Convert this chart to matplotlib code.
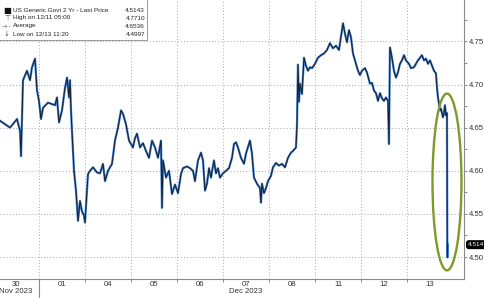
'''
    US 2Y yield intraday chart (Bloomberg style), Nov 30 - Dec 13 2023.
'''
import matplotlib
matplotlib.use('Agg')
import matplotlib.pyplot as plt
from matplotlib.patches import Ellipse, Rectangle
from matplotlib.transforms import blended_transform_factory

# trading-day position (0 = Nov 30, 1 = Dec 01, 2 = Dec 04 ...) and yield
t_days = [
    0.152, 0.370, 0.522, 0.587, 0.609, 0.652, 0.739, 0.804, 0.848, 0.913,
    0.957, 1.000, 1.043, 1.087, 1.196, 1.348, 1.391, 1.435, 1.500, 1.565,
    1.609, 1.652, 1.674, 1.696, 1.717, 1.761, 1.804, 1.848, 1.891, 1.935,
    1.978, 2.000, 2.043, 2.065, 2.109, 2.174, 2.261, 2.326, 2.391, 2.435,
    2.500, 2.587, 2.652, 2.717, 2.783, 2.826, 2.891, 2.957, 3.043, 3.087,
    3.130, 3.196, 3.261, 3.326, 3.391, 3.457, 3.522, 3.587, 3.652, 3.674,
    3.696, 3.761, 3.826, 3.891, 3.957, 4.022, 4.087, 4.130, 4.217, 4.283,
    4.348, 4.391, 4.457, 4.522, 4.565, 4.609, 4.652, 4.696, 4.739, 4.804,
    4.848, 4.891, 4.935, 5.000, 5.065, 5.130, 5.196, 5.239, 5.283, 5.326,
    5.391, 5.457, 5.500, 5.565, 5.587, 5.630, 5.674, 5.739, 5.804, 5.826,
    5.848, 5.891, 5.935, 5.978, 6.043, 6.087, 6.152, 6.217, 6.283, 6.348,
    6.413, 6.478, 6.522, 6.587, 6.609, 6.630, 6.652, 6.674, 6.717, 6.761,
    6.804, 6.848, 6.891, 6.935, 7.000, 7.065, 7.130, 7.196, 7.261, 7.326,
    7.391, 7.457, 7.522, 7.565, 7.609, 7.652, 7.696, 7.739, 7.783, 7.826,
    7.870, 7.935, 7.978, 8.022, 8.087, 8.130, 8.196, 8.239, 8.283, 8.326,
    8.370, 8.413, 8.457, 8.500, 8.543, 8.587, 8.609, 8.630, 8.674, 8.717,
    8.761, 8.804, 8.848, 8.891, 8.935, 8.978, 9.043, 9.087, 9.152, 9.196,
    9.239, 9.283, 9.326, 9.370, 9.413, 9.457, 9.500, 9.543, 9.587, 9.630,
    9.652, 9.674, 9.696, 9.717, 9.739, 9.783, 9.804, 9.826, 9.848, 9.870,
    9.876, 9.880, 9.885,
]
yield_2y = [
    4.658, 4.650, 4.660, 4.646, 4.617, 4.705, 4.716, 4.705, 4.720, 4.730,
    4.693, 4.681, 4.660, 4.673, 4.679, 4.676, 4.685, 4.656, 4.670, 4.696,
    4.708, 4.685, 4.705, 4.670, 4.646, 4.600, 4.577, 4.542, 4.565, 4.553,
    4.548, 4.540, 4.577, 4.596, 4.600, 4.604, 4.598, 4.597, 4.608, 4.588,
    4.600, 4.608, 4.635, 4.650, 4.670, 4.666, 4.654, 4.635, 4.627, 4.638,
    4.643, 4.627, 4.632, 4.623, 4.615, 4.635, 4.627, 4.615, 4.635, 4.557,
    4.612, 4.592, 4.600, 4.573, 4.584, 4.574, 4.596, 4.603, 4.605, 4.603,
    4.600, 4.588, 4.612, 4.621, 4.612, 4.577, 4.585, 4.603, 4.592, 4.612,
    4.597, 4.603, 4.592, 4.597, 4.600, 4.603, 4.615, 4.631, 4.633, 4.627,
    4.615, 4.608, 4.620, 4.631, 4.635, 4.620, 4.592, 4.585, 4.580, 4.563,
    4.585, 4.574, 4.580, 4.588, 4.594, 4.604, 4.609, 4.606, 4.608, 4.604,
    4.615, 4.621, 4.623, 4.627, 4.653, 4.723, 4.680, 4.701, 4.689, 4.731,
    4.722, 4.716, 4.720, 4.719, 4.724, 4.731, 4.734, 4.736, 4.740, 4.748,
    4.742, 4.745, 4.740, 4.755, 4.771, 4.759, 4.749, 4.763, 4.755, 4.736,
    4.728, 4.716, 4.711, 4.716, 4.719, 4.714, 4.701, 4.702, 4.693, 4.690,
    4.681, 4.690, 4.684, 4.681, 4.685, 4.681, 4.631, 4.743, 4.731, 4.716,
    4.708, 4.714, 4.724, 4.728, 4.734, 4.728, 4.724, 4.719, 4.720, 4.724,
    4.728, 4.731, 4.734, 4.728, 4.730, 4.724, 4.728, 4.722, 4.716, 4.713,
    4.697, 4.685, 4.678, 4.670, 4.672, 4.662, 4.667, 4.676, 4.664, 4.667,
    4.530, 4.4997, 4.5143,
]

day_labels = ['30\nNov 2023', '01', '04', '05', '06', '07\nDec 2023', '08', '11', '12', '13']
y_ticks = [4.50, 4.55, 4.60, 4.65, 4.70, 4.75]

legend_rows = [
    ('US Generic Govt 2 Yr - Last Price', '4.5143'),
    ('High on 12/11 05:00', '4.7710'),
    ('Average', '4.6536'),
    ('Low on 12/13 11:20', '4.4997'),
]
last_price = 4.5143

plt.rcParams['font.family'] = ['Liberation Sans', 'DejaVu Sans']

W, H = 485, 298
fig = plt.figure(figsize=(W / 100, H / 100), dpi=100)
ax = fig.add_axes([0, 19 / H, 464 / W, 279 / H])

# the series: blue halo with dark core
ax.plot(t_days, yield_2y, color='#3f7cc8', lw=1.6, solid_joinstyle='round')
ax.plot(t_days, yield_2y, color='#0e1420', lw=0.7, alpha=0.9)

ax.set_xlim(0.152, 10.24)
ax.set_ylim(4.4745, 4.798)

# grid
grid_kw = dict(color='#a8a8a8', lw=0.7, linestyle=(0, (1, 2.2)))
for yv in y_ticks:
    ax.axhline(yv, **grid_kw, zorder=0)
for d in range(1, 10):
    ax.axvline(d, **grid_kw, zorder=0)

# spines and axes
for side in ('left', 'top'):
    ax.spines[side].set_visible(False)
for side in ('right', 'bottom'):
    ax.spines[side].set_color('#8a8a8a')
    ax.spines[side].set_linewidth(0.8)

ax.yaxis.tick_right()
ax.set_yticks(y_ticks)
ax.set_yticklabels([f'{v:.2f}' for v in y_ticks])
ax.set_yticks([v + 0.025 for v in y_ticks], minor=True)
ax.tick_params(axis='y', which='both', length=2.5, width=0.7, colors='#8a8a8a',
               labelcolor='#333333', labelsize=5.6, pad=1)

ax.set_xticks(range(1, 10))
ax.set_xticklabels([])
ax.set_xticks([d + 0.5 for d in range(10)], minor=True)
ax.set_xticklabels(day_labels, minor=True, fontsize=5.6, color='#333333',
                   linespacing=1.05)
ax.tick_params(axis='x', which='major', length=2.5, width=0.7, colors='#8a8a8a')
ax.tick_params(axis='x', which='minor', length=0, pad=1.5)

# month separator below the axis
ax.plot([1, 1], [0, -19 / 279], color='#8a8a8a', lw=0.8,
        transform=ax.get_xaxis_transform(), clip_on=False)

# last price tag
tr = blended_transform_factory(ax.transAxes, ax.transData)
ax.text(1.0 + 4 / 464, last_price, '4.514', transform=tr, fontsize=4.6,
        color='white', va='center', ha='left',
        bbox=dict(boxstyle='round,pad=0.2,rounding_size=0.3', fc='black', ec='black'),
        clip_on=False)

# highlight ellipse around the final drop
ax.add_patch(Ellipse((9.87, 4.587), 0.63, 0.205, fill=False,
                     ec='#7d9a2a', lw=1.7, zorder=5))

# legend box
ax.add_patch(Rectangle((-0.01, 1 - 40 / 279), 147 / 464 + 0.01, 40 / 279 + 0.01,
                       transform=ax.transAxes, fc='white', ec='#999999', lw=0.7,
                       zorder=6, clip_on=False))
symbols = ['\u25A0', '\u22A4', '-+-', '\u2193']
sym_size = [6, 5, 4.5, 5]
for i, (label, value) in enumerate(legend_rows):
    yy = 1 - (10 + 8 * i) / 279
    ax.text(7 / 464, yy, symbols[i], transform=ax.transAxes, fontsize=sym_size[i],
            ha='center', va='center', color='#111111' if i == 0 else '#555555',
            family=['DejaVu Sans'], zorder=7)
    ax.text(13 / 464, yy, label, transform=ax.transAxes, fontsize=4.6,
            ha='left', va='center', color='#222222', zorder=7)
    ax.text(145 / 464, yy, value, transform=ax.transAxes, fontsize=4.6,
            ha='right', va='center', color='#222222', zorder=7)

fig.savefig('out.png', dpi=100)
